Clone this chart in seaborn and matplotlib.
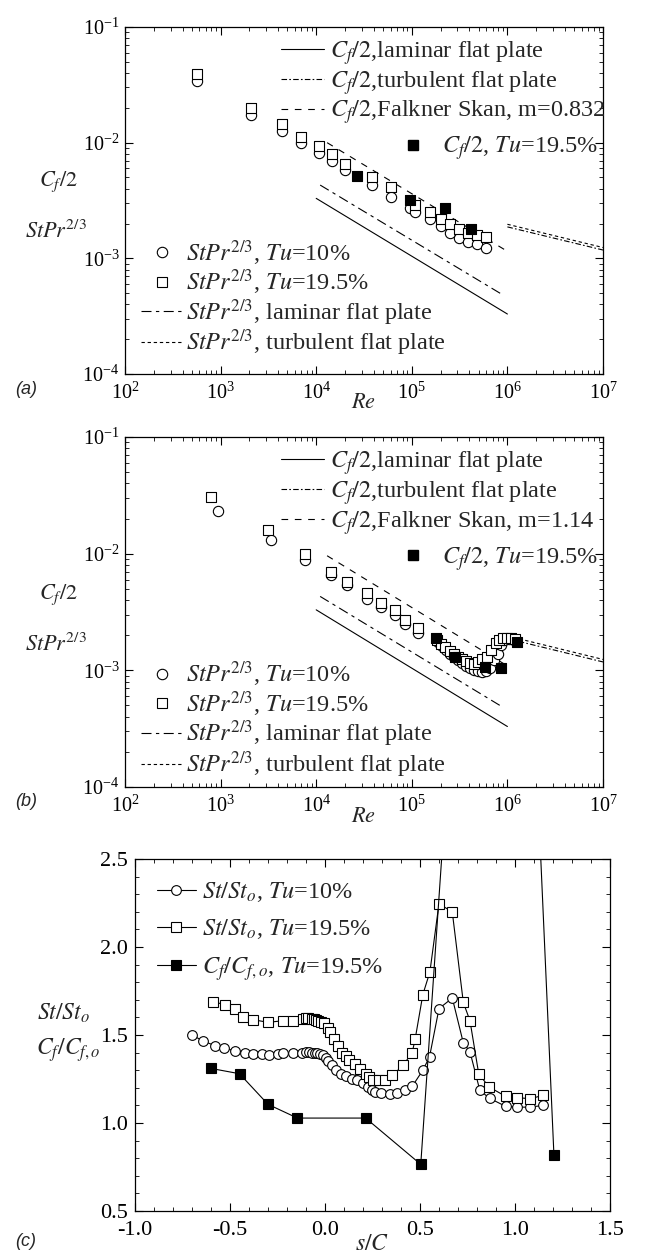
import numpy as np
import pandas as pd
import matplotlib
matplotlib.use("Agg")
import matplotlib.pyplot as plt
import seaborn as sns
from matplotlib.lines import Line2D
from matplotlib.ticker import LogLocator, MultipleLocator, NullFormatter, FormatStrFormatter

# ---------------- data: panel (a) ----------------
re_a_c10 = [570, 2100, 4400, 7000, 10700, 14800, 20000, 38000, 60000, 96000, 107000,
            155000, 200000, 250000, 310000, 390000, 480000, 600000]
st_a_c10 = [0.034, 0.0175, 0.0126, 0.0100, 0.0082, 0.0069, 0.0058, 0.0043, 0.0034, 0.0027, 0.0025,
            0.0022, 0.0019, 0.00165, 0.0015, 0.00138, 0.00132, 0.00123]
re_a_s195 = [570, 2100, 4400, 7000, 10700, 14800, 20000, 38000, 60000, 107000,
             155000, 200000, 250000, 310000, 390000, 480000, 600000]
st_a_s195 = [0.039, 0.020, 0.0146, 0.0113, 0.0093, 0.0080, 0.0066, 0.0050, 0.0041, 0.0029,
             0.0025, 0.0022, 0.0020, 0.0018, 0.00167, 0.00158, 0.00152]
re_a_cf = [27000, 96000, 220000, 420000]
cf_a = [0.0051, 0.0032, 0.0027, 0.00178]
fs_a_re = [1.3e4, 1.0e6]
fs_a_v = [0.0100, 0.00115]

# ---------------- data: panel (b) ----------------
re_b_c10 = [930, 3350, 7600, 14400, 21000, 34000, 48000, 66000, 85000, 115000,
            189000, 207000, 229000, 251000, 277000, 304000, 336000, 369000, 407000, 447000,
            493000, 541000, 600000, 656000, 724000, 794000, 858000, 927000, 1040000, 1170000]
st_b_c10 = [0.0234, 0.0132, 0.0089, 0.0065, 0.0054, 0.0041, 0.0035, 0.0030, 0.0025, 0.0021,
            0.00175, 0.00161, 0.00149, 0.00137, 0.00129, 0.00122, 0.00116, 0.00110, 0.00105, 0.00101,
            0.00098, 0.00097, 0.00098, 0.00104, 0.00122, 0.00139, 0.00164, 0.00182, 0.00184, 0.00182]
re_b_s195 = [790, 3100, 7600, 14400, 21000, 34000, 48000, 66000, 85000, 115000,
             185000, 204000, 224000, 251000, 277000, 304000, 336000, 369000, 407000, 447000,
             493000, 541000, 607000, 681000, 753000, 826000, 906000, 1000000, 1100000, 1210000]
st_b_s195 = [0.0305, 0.0158, 0.0100, 0.0069, 0.0057, 0.0046, 0.0038, 0.0033, 0.0027, 0.0023,
             0.00182, 0.00168, 0.00157, 0.00147, 0.00137, 0.00130, 0.00124, 0.00120, 0.00116, 0.00114,
             0.00118, 0.00124, 0.00130, 0.00149, 0.00170, 0.00182, 0.00188, 0.00190, 0.00188, 0.00184]
re_b_cf = [180000, 282000, 590000, 860000, 1260000]
cf_b = [0.0019, 0.0013, 0.00107, 0.00104, 0.00175]
fs_b_re = [1.3e4, 1.04e6]
fs_b_v = [0.0096, 0.00107]

# ---------------- reference lines ----------------
lam_cf_re = [1.0e4, 1.0e6]
lam_cf_v = [0.0033, 0.00033]
lam_st_re = [1.1e4, 8.7e5]
lam_st_v = [0.0043, 0.00049]
turb_cf_re = [1.0e6, 1.0e7]
turb_cf_v = [0.00187, 0.00118]
turb_st_re = [1.0e6, 1.0e7]
turb_st_v = [0.00197, 0.00124]

# ---------------- data: panel (c) ----------------
sc_c10 = [-0.70, -0.64, -0.58, -0.53, -0.475, -0.42, -0.378, -0.33, -0.295, -0.25, -0.222, -0.17,
          -0.12, -0.10, -0.085, -0.07, -0.055, -0.04, -0.025, -0.01, 0.005, 0.017, 0.037, 0.058,
          0.085, 0.11, 0.14, 0.17, 0.20, 0.225, 0.245, 0.265, 0.295, 0.34, 0.38, 0.42, 0.46,
          0.515, 0.55, 0.60, 0.67, 0.728, 0.763, 0.815, 0.867, 0.95, 1.012, 1.081, 1.147]
r_c10 = [1.50, 1.465, 1.44, 1.425, 1.41, 1.40, 1.39, 1.39, 1.385, 1.39, 1.395, 1.395,
         1.40, 1.405, 1.405, 1.40, 1.40, 1.395, 1.39, 1.385, 1.37, 1.355, 1.33, 1.30,
         1.28, 1.265, 1.25, 1.245, 1.225, 1.205, 1.19, 1.175, 1.17, 1.165, 1.17, 1.185, 1.21,
         1.30, 1.375, 1.65, 1.71, 1.455, 1.405, 1.185, 1.14, 1.095, 1.09, 1.09, 1.10]
sc_s195 = [-0.59, -0.527, -0.475, -0.43, -0.378, -0.30, -0.22, -0.17, -0.118, -0.10, -0.087,
           -0.07, -0.06, -0.045, -0.035, -0.02, -0.004, 0.015, 0.027, 0.048, 0.068, 0.09, 0.11,
           0.127, 0.156, 0.183, 0.214, 0.234, 0.255, 0.286, 0.317, 0.355, 0.411, 0.459, 0.475,
           0.515, 0.552, 0.60, 0.67, 0.728, 0.763, 0.809, 0.863, 0.95, 1.012, 1.081, 1.147]
r_s195 = [1.69, 1.672, 1.647, 1.60, 1.587, 1.572, 1.581, 1.581, 1.59, 1.594, 1.594,
          1.59, 1.59, 1.585, 1.581, 1.575, 1.568, 1.54, 1.515, 1.477, 1.44, 1.40, 1.38,
          1.36, 1.333, 1.309, 1.28, 1.261, 1.246, 1.242, 1.242, 1.271, 1.328, 1.40, 1.48,
          1.73, 1.858, 2.247, 2.198, 1.685, 1.581, 1.28, 1.205, 1.152, 1.144, 1.138, 1.157]
sc_cf = [-0.60, -0.45, -0.30, -0.145, 0.214, 0.504, 0.93, 1.205]
r_cf = [1.31, 1.28, 1.106, 1.028, 1.028, 0.765, 7.5, 0.816]

# ---------------- style ----------------
sns.set_theme(style="ticks")
plt.rcParams.update({
    "font.family": ["Liberation Serif", "DejaVu Serif"],
    "mathtext.fontset": "stix",
    "axes.linewidth": 0.9,
    "axes.edgecolor": "black",
    "xtick.direction": "in", "ytick.direction": "in",
    "xtick.top": True, "ytick.right": True,
    "xtick.major.size": 6, "ytick.major.size": 6,
    "xtick.minor.size": 3, "ytick.minor.size": 3,
    "xtick.major.width": 0.8, "ytick.major.width": 0.8,
    "xtick.minor.width": 0.6, "ytick.minor.width": 0.6,
    "xtick.color": "black", "ytick.color": "black",
    "xtick.labelsize": 14.5, "ytick.labelsize": 14.5,
    "legend.fontsize": 17.5,
})

W, H = 648, 1257
fig = plt.figure(figsize=(W / 100, H / 100), dpi=100)


def ax_px(left, top, right, bottom):
    return fig.add_axes([left / W, 1 - bottom / H, (right - left) / W, (bottom - top) / H])


ax_a = ax_px(125, 27, 603, 374)
ax_b = ax_px(125, 437, 603, 787)
ax_c = ax_px(135, 859, 610, 1211)

LW = 0.8
K = "black"
DASH_LAM_ST = (0, (9, 4, 3, 4))
DASH_FS = (0, (6, 6))
DASH_TCF = (0, (5, 2, 1.5, 2))
DASH_TST = (0, (3, 2.5))
LABFS = 16


def line(ax, x, y, ls):
    sns.lineplot(x=x, y=y, ax=ax, color=K, lw=LW, estimator=None, sort=False)
    ax.lines[-1].set_linestyle(ls)


def log_panel(ax, c10x, c10y, s19x, s19y, cfx, cfy, fsx, fsy, fs_m, tag, low_y):
    line(ax, lam_cf_re, lam_cf_v, "-")
    line(ax, lam_st_re, lam_st_v, DASH_LAM_ST)
    line(ax, fsx, fsy, DASH_FS)
    line(ax, turb_cf_re, turb_cf_v, DASH_TCF)
    line(ax, turb_st_re, turb_st_v, DASH_TST)
    sns.scatterplot(x=c10x, y=c10y, ax=ax, marker="o", s=55, color="white",
                    edgecolor=K, linewidth=0.8, zorder=3)
    sns.scatterplot(x=s19x, y=s19y, ax=ax, marker="s", s=55, color="white",
                    edgecolor=K, linewidth=0.8, zorder=3)
    sns.scatterplot(x=cfx, y=cfy, ax=ax, marker="s", s=55, color=K,
                    edgecolor=K, linewidth=0.8, zorder=4)
    ax.set_xscale("log")
    ax.set_yscale("log")
    ax.set_xlim(1e2, 1e7)
    ax.set_ylim(1e-4, 1e-1)
    ax.xaxis.set_major_locator(LogLocator(base=10, numticks=10))
    ax.xaxis.set_minor_locator(LogLocator(base=10, subs=np.arange(2, 10), numticks=20))
    ax.yaxis.set_major_locator(LogLocator(base=10, numticks=10))
    ax.yaxis.set_minor_locator(LogLocator(base=10, subs=np.arange(2, 10), numticks=20))
    ax.xaxis.set_minor_formatter(NullFormatter())
    ax.yaxis.set_minor_formatter(NullFormatter())
    ax.tick_params(which="both", direction="in", top=True, right=True)
    ax.tick_params(axis="x", pad=6)
    ax.tick_params(axis="y", pad=4)
    ax.set_xlabel("")
    ax.set_ylabel("")
    for s in ax.spines.values():
        s.set_visible(True)

    # upper-right legend (C_f/2 lines)
    h1 = [Line2D([], [], color=K, lw=LW, ls="-"),
          Line2D([], [], color=K, lw=LW, ls=DASH_TCF),
          Line2D([], [], color=K, lw=LW, ls=DASH_FS)]
    l1 = [r"$C_f/2$,laminar flat plate",
          r"$C_f/2$,turbulent flat plate",
          r"$C_f/2$,Falkner Skan, m=" + fs_m]
    leg1 = ax.legend(h1, l1, loc="upper left", bbox_to_anchor=(0.327, 0.965), frameon=False,
                     handlelength=1.75, handletextpad=0.25, labelspacing=0.08,
                     borderaxespad=0, borderpad=0)
    ax.add_artist(leg1)
    h2 = [Line2D([], [], color=K, marker="s", ls="none", ms=7.5)]
    l2 = [r"$C_f/2$, $Tu$=19.5%"]
    leg2 = ax.legend(h2, l2, loc="upper left", bbox_to_anchor=(0.577, 0.69), frameon=False,
                     handlelength=1.0, handletextpad=0.7, borderaxespad=0, borderpad=0)
    ax.add_artist(leg2)

    # lower-left legend (StPr^2/3)
    h3 = [Line2D([], [], color=K, marker="o", mfc="white", mec=K, ls="none", ms=7.5, mew=0.8),
          Line2D([], [], color=K, marker="s", mfc="white", mec=K, ls="none", ms=7.5, mew=0.8),
          Line2D([], [], color=K, lw=LW, ls=DASH_LAM_ST),
          Line2D([], [], color=K, lw=LW, ls=DASH_TST)]
    l3 = [r"$StPr^{2/3}$, $Tu$=10%",
          r"$StPr^{2/3}$, $Tu$=19.5%",
          r"$StPr^{2/3}$, laminar flat plate",
          r"$StPr^{2/3}$, turbulent flat plate"]
    ax.legend(h3, l3, loc="lower left", bbox_to_anchor=(0.033, low_y), frameon=False,
              handlelength=1.75, handletextpad=0.1, labelspacing=0.0,
              borderaxespad=0, borderpad=0)

    # axis labels
    bb = ax.get_position()
    fig.text(bb.x0 + bb.width / 2, bb.y0 - 30 / H, r"$Re$", ha="center", va="center", fontsize=LABFS)
    fig.text(15 / W, bb.y0 - 15 / H, "(" + tag + ")", ha="left", va="center", fontsize=13,
             family="Liberation Sans", style="italic")
    fig.text(58 / W, bb.y0 + 192 / H, r"$C_f/2$", ha="center", va="center", fontsize=LABFS)
    fig.text(56 / W, bb.y0 + 142 / H, r"$StPr^{2/3}$", ha="center", va="center", fontsize=LABFS)


log_panel(ax_a, re_a_c10, st_a_c10, re_a_s195, st_a_s195, re_a_cf, cf_a, fs_a_re, fs_a_v, "0.832", "a", 0.045)
log_panel(ax_b, re_b_c10, st_b_c10, re_b_s195, st_b_s195, re_b_cf, cf_b, fs_b_re, fs_b_v, "1.14", "b", 0.02)

# ---------------- panel (c) ----------------
mk = dict(markersize=7, markeredgewidth=0.8, markeredgecolor=K)
sns.lineplot(x=sc_c10, y=r_c10, ax=ax_c, color=K, lw=LW, marker="o", markerfacecolor="white",
             estimator=None, sort=False, **mk)
sns.lineplot(x=sc_s195, y=r_s195, ax=ax_c, color=K, lw=LW, marker="s", markerfacecolor="white",
             estimator=None, sort=False, **mk)
sns.lineplot(x=sc_cf, y=r_cf, ax=ax_c, color=K, lw=LW, marker="s", markerfacecolor=K,
             estimator=None, sort=False, **mk)
ax_c.set_xlim(-1.0, 1.5)
ax_c.set_ylim(0.5, 2.5)
ax_c.xaxis.set_major_locator(MultipleLocator(0.5))
ax_c.xaxis.set_minor_locator(MultipleLocator(0.1))
ax_c.yaxis.set_major_locator(MultipleLocator(0.5))
ax_c.yaxis.set_minor_locator(MultipleLocator(0.1))
ax_c.xaxis.set_major_formatter(FormatStrFormatter("%.1f"))
ax_c.yaxis.set_major_formatter(FormatStrFormatter("%.1f"))
ax_c.tick_params(which="both", direction="in", top=True, right=True, labelsize=16)
ax_c.tick_params(axis="x", pad=7)
ax_c.tick_params(axis="y", pad=5)
ax_c.set_xlabel("")
ax_c.set_ylabel("")
for s in ax_c.spines.values():
    s.set_visible(True)
hc = [Line2D([], [], color=K, lw=LW, marker="o", mfc="white", mec=K, ms=7, mew=0.8),
      Line2D([], [], color=K, lw=LW, marker="s", mfc="white", mec=K, ms=7, mew=0.8),
      Line2D([], [], color=K, lw=LW, marker="s", mfc=K, mec=K, ms=7, mew=0.8)]
lc = [r"$St/St_o$, $Tu$=10%", r"$St/St_o$, $Tu$=19.5%", r"$C_f/C_{f,o}$, $Tu$=19.5%"]
ax_c.legend(hc, lc, loc="upper left", bbox_to_anchor=(0.046, 0.94), frameon=False,
            handlelength=1.6, handletextpad=0.25, labelspacing=0.55,
            borderaxespad=0, borderpad=0)
bbc = ax_c.get_position()
fig.text(bbc.x0 + bbc.width / 2, 1 - 1244 / H, r"$s/C$", ha="center", va="center", fontsize=17)
fig.text(15 / W, 1 - 1242 / H, "(c)", ha="left", va="center", fontsize=13,
         family="Liberation Sans", style="italic")
fig.text(64 / W, 1 - 1013 / H, r"$St/St_o$", ha="center", va="center", fontsize=17)
fig.text(68 / W, 1 - 1050 / H, r"$C_f/C_{f,o}$", ha="center", va="center", fontsize=17)

fig.savefig("out.png", dpi=100, facecolor="white")
